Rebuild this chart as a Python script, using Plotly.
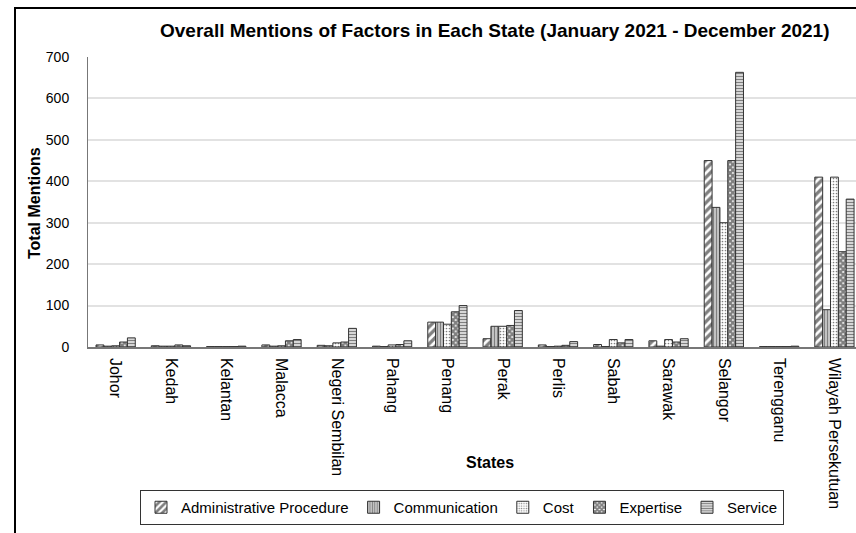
import plotly.graph_objects as go

# Mentions per state, January 2021 - December 2021
states = ["Johor", "Kedah", "Kelantan", "Malacca", "Negeri Sembilan", "Pahang",
          "Penang", "Perak", "Perlis", "Sabah", "Sarawak", "Selangor",
          "Terengganu", "Wilayah Persekutuan"]

administrative_procedure = [5, 3, 1, 5, 4, 2, 60, 20, 5, 6, 15, 450, 1, 410]
communication = [2, 2, 1, 2, 3, 1, 60, 50, 1, 1, 2, 337, 1, 90]
cost = [3, 2, 1, 3, 10, 5, 55, 50, 2, 18, 18, 300, 1, 410]
expertise = [12, 5, 1, 15, 12, 6, 85, 52, 4, 10, 12, 450, 1, 230]
service = [22, 3, 2, 18, 45, 15, 100, 88, 13, 18, 20, 663, 2, 357]

series_names = ["Administrative Procedure", "Communication", "Cost", "Expertise", "Service"]
series_values = [administrative_procedure, communication, cost, expertise, service]
patterns = [
    dict(shape="/", size=6, solidity=0.55),
    dict(shape="|", size=3, solidity=0.65),
    dict(shape=".", size=3, solidity=0.25),
    dict(shape="x", size=4, solidity=0.8),
    dict(shape="-", size=3, solidity=0.55),
]

FONT = "Liberation Sans, Arial, sans-serif"

# plot area in pixels
L, R, T, B = 88, 856, 57, 347
PW, PH = R - L, B - T

fig = go.Figure()
for name, vals, pat in zip(series_names, series_values, patterns):
    fig.add_trace(go.Bar(
        name=name, x=states, y=vals,
        marker=dict(
            color="white",
            line=dict(color="#333333", width=1),
            pattern=dict(fgcolor="black", bgcolor="white", fillmode="overlay", **pat),
        ),
    ))

fig.update_layout(
    width=856, height=533,
    margin=dict(l=L, r=856 - R, t=T, b=533 - B),
    paper_bgcolor="white", plot_bgcolor="white",
    font=dict(family=FONT, color="black", size=13),
    barmode="group", bargap=0.29, bargroupgap=0,
    title=dict(
        text="<b>Overall Mentions of Factors in Each State (January 2021 - December 2021)</b>",
        x=0.578, xref="container", xanchor="center",
        y=1 - 30 / 533, yref="container", yanchor="middle",
        font=dict(size=19, family=FONT, color="black"),
    ),
    xaxis=dict(
        range=[-0.5, 13.39],
        tickangle=90, tickfont=dict(size=16), showgrid=False,
        showline=True, linecolor="#777777", linewidth=1.5,
        ticks="", ticklabelstandoff=6,
    ),
    yaxis=dict(
        range=[0, 700], dtick=100, tickfont=dict(size=14),
        showgrid=True, gridcolor="#e2e2e2", gridwidth=1.5,
        showline=True, linecolor="#777777", linewidth=1,
        zeroline=False, ticks="", ticklabelstandoff=15,
    ),
    legend=dict(
        orientation="h", x=(140 - L) / PW, xanchor="left", y=-(490 - B) / PH, yanchor="top",
        font=dict(size=15, family=FONT), bordercolor="#333333", borderwidth=1,
        bgcolor="white", itemwidth=30,
    ),
    showlegend=True,
)

# axis titles
fig.add_annotation(
    text="<b>Total Mentions</b>", x=(34 - L) / PW, y=(B - 203) / PH, xref="paper", yref="paper",
    xanchor="center", yanchor="middle",
    showarrow=False, textangle=-90, font=dict(size=16, family=FONT),
)
fig.add_annotation(
    text="<b>States</b>", x=(490 - L) / PW, y=-(462 - B) / PH, xref="paper", yref="paper",
    xanchor="center", yanchor="middle",
    showarrow=False, font=dict(size=16, family=FONT),
)

# chart frame
fig.add_shape(
    type="rect", xref="paper", yref="paper",
    x0=(15 - L) / PW, x1=1.02, y0=-0.75, y1=1 + (T - 8) / PH,
    line=dict(color="black", width=2), fillcolor="rgba(0,0,0,0)", layer="below",
)

fig.write_html("out.html")
